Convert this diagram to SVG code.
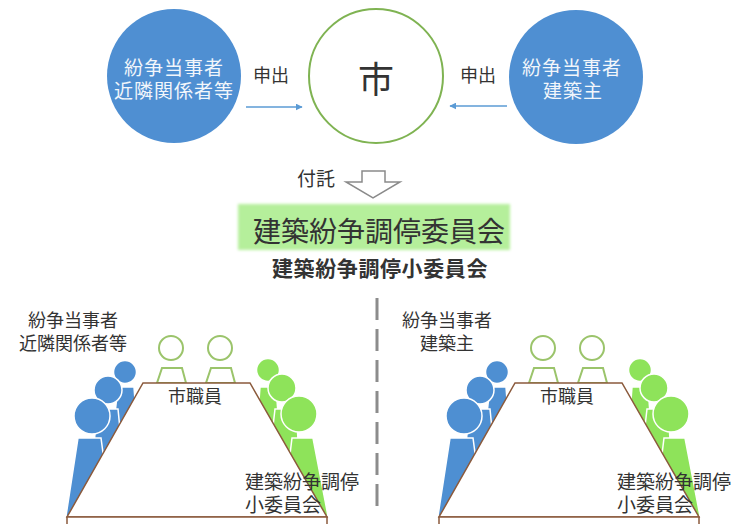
<svg xmlns="http://www.w3.org/2000/svg" xmlns:xlink="http://www.w3.org/1999/xlink" width="752" height="524" viewBox="0 0 752 524">
  <style>
    text { font-family: "Noto Sans CJK JP", "Noto Sans", sans-serif; fill: #333; }
    .party { fill: #4f8fd2; }
    .inv { fill: #f2f6fb; font-size: 19px; letter-spacing: 1px; text-anchor: middle; }
    .lbl { font-size: 18px; }
    .flow { stroke: #5b9bd5; stroke-width: 1.5; fill: none; }
    .staff { fill: #fff; stroke: #9bc46b; stroke-width: 2; }
    .blue { fill: #4e8fd2; stroke: #fff; stroke-width: 1.5; }
    .green { fill: #8ee35a; stroke: #fff; stroke-width: 1.5; }
    .table { fill: #fff; stroke: #8b5a3c; stroke-width: 1.5; }
    .scene { font-size: 18px; }
  </style>
  <defs>
    <marker id="head" viewBox="0 0 10 10" refX="9" refY="5" markerWidth="7" markerHeight="7" orient="auto" markerUnits="userSpaceOnUse">
      <path d="M0,0 L10,5 L0,10 z" fill="#5b9bd5"/>
    </marker>
    <filter id="soft" x="-5%" y="-20%" width="110%" height="140%">
      <feGaussianBlur stdDeviation="1.5"/>
    </filter>
    <!-- meeting table with its participants; shared by both sessions -->
    <g id="meeting">
      <!-- blue parties, back to front -->
      <circle class="blue" cx="125" cy="372" r="11.5"/>
      <polygon class="blue" points="118,387 134,387 138,440 112,440"/>
      <circle class="blue" cx="108" cy="390" r="14"/>
      <polygon class="blue" points="97,409 118,409 124,470 92,470"/>
      <circle class="blue" cx="92" cy="416" r="18"/>
      <polygon class="blue" points="78,438 101,438 112,520 66,516"/>
      <!-- green committee members, back to front -->
      <circle class="green" cx="268" cy="370" r="11.5"/>
      <polygon class="green" points="260,387 276,387 280,440 256,440"/>
      <circle class="green" cx="282" cy="388" r="14"/>
      <polygon class="green" points="275,409 296,409 300,470 268,470"/>
      <circle class="green" cx="299" cy="414" r="18"/>
      <polygon class="green" points="292,438 313,438 328,516 282,520"/>
      <!-- city staff -->
      <circle class="staff" cx="171" cy="348" r="12"/>
      <polygon class="staff" points="162,368 182,368 186,383 157,383"/>
      <circle class="staff" cx="220" cy="348" r="12"/>
      <polygon class="staff" points="211,368 231,368 235,383 206,383"/>
      <!-- table -->
      <polygon class="table" points="143,383 250,383 327,517 67,517"/>
      <rect class="table" x="67" y="517" width="260" height="12"/>
    </g>
  </defs>

  <!-- parties and city -->
  <g id="neighbours">
    <circle class="party" cx="174" cy="76" r="67"/>
    <text class="inv" x="174" y="75">紛争当事者</text>
    <text class="inv" x="174" y="98">近隣関係者等</text>
  </g>
  <g id="city">
    <circle cx="376" cy="76" r="67" fill="#fff" stroke="#7fb352" stroke-width="2"/>
    <text x="376" y="93" font-size="36" text-anchor="middle" fill="#111">市</text>
  </g>
  <g id="owner">
    <circle class="party" cx="576" cy="77" r="67"/>
    <text class="inv" x="572" y="75">紛争当事者</text>
    <text class="inv" x="573" y="98">建築主</text>
  </g>

  <!-- connectors -->
  <g id="connectors">
    <line class="flow" x1="246" y1="107" x2="302" y2="107" marker-end="url(#head)"/>
    <text class="lbl" x="253" y="82">申出</text>
    <line class="flow" x1="507" y1="106" x2="450" y2="106" marker-end="url(#head)"/>
    <text class="lbl" x="460" y="82">申出</text>
    <polygon points="362,171 385,171 385,182 400,182 373,198 346,182 362,182" fill="#fff" stroke="#8a8a8a" stroke-width="1.5"/>
    <text x="297" y="186" font-size="19">付託</text>
  </g>

  <!-- committee -->
  <g id="committee">
    <rect x="238" y="204" width="272" height="46" fill="#b5ef9b" filter="url(#soft)"/>
    <text x="379" y="242" font-size="28" text-anchor="middle" fill="#2f3a2f">建築紛争調停委員会</text>
    <text x="380" y="276" font-size="21" font-weight="bold" letter-spacing="0.6" text-anchor="middle">建築紛争調停小委員会</text>
  </g>

  <!-- divider -->
  <line x1="377" y1="298" x2="377" y2="512" stroke="#8c8c8c" stroke-width="3" stroke-dasharray="22 9"/>

  <!-- session with neighbours -->
  <g id="session-neighbours" class="scene">
    <use xlink:href="#meeting"/>
    <text x="73" y="327" text-anchor="middle">紛争当事者</text>
    <text x="73" y="350" text-anchor="middle">近隣関係者等</text>
    <text x="195" y="403" text-anchor="middle">市職員</text>
    <text x="245" y="489" font-size="19">建築紛争調停</text>
    <text x="245" y="512" font-size="19">小委員会</text>
  </g>

  <!-- session with building owner -->
  <g id="session-owner" class="scene">
    <use xlink:href="#meeting" transform="translate(372,0)"/>
    <text x="447" y="327" text-anchor="middle">紛争当事者</text>
    <text x="447" y="350" text-anchor="middle">建築主</text>
    <text x="567" y="403" text-anchor="middle">市職員</text>
    <text x="617" y="489" font-size="19">建築紛争調停</text>
    <text x="617" y="512" font-size="19">小委員会</text>
  </g>
</svg>
